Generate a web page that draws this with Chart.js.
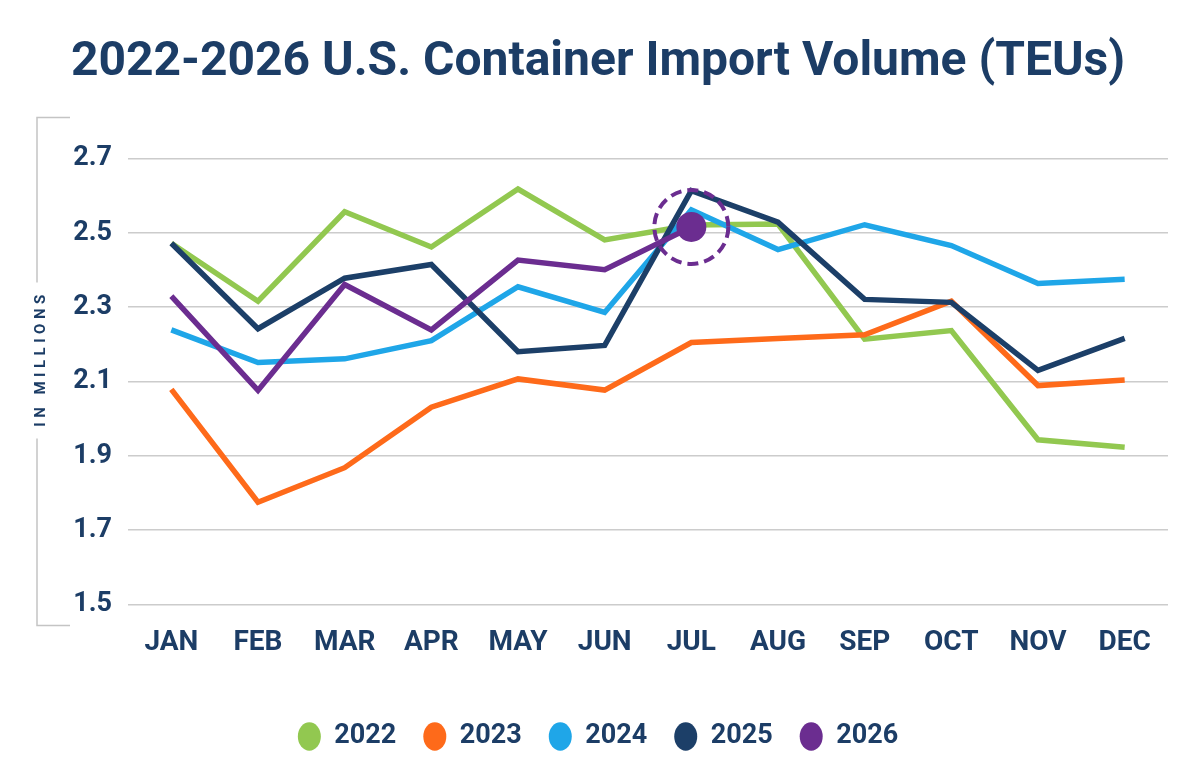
<!DOCTYPE html>
<html>
<head>
<meta charset="utf-8">
<script src="https://cdn.jsdelivr.net/npm/chart.js@4.4.0/dist/chart.umd.min.js"></script>
<style>
  html, body { margin: 0; padding: 0; background: #fff; }
  #wrap { width: 1200px; height: 773px; }
</style>
</head>
<body>
<div id="wrap"><canvas id="importVolume"></canvas></div>
<script>
// values, millions of TEUs
const months = ['JAN', 'FEB', 'MAR', 'APR', 'MAY', 'JUN', 'JUL', 'AUG', 'SEP', 'OCT', 'NOV', 'DEC'];
const years = ['2022', '2023', '2024', '2025', '2026'];
const teu2022 = [2.472, 2.316, 2.557, 2.462, 2.618, 2.481, 2.521, 2.524, 2.214, 2.237, 1.943, 1.923];
const teu2023 = [2.079, 1.775, 1.868, 2.031, 2.107, 2.077, 2.205, 2.216, 2.226, 2.316, 2.089, 2.104];
const teu2024 = [2.239, 2.151, 2.161, 2.210, 2.355, 2.286, 2.562, 2.455, 2.522, 2.466, 2.364, 2.375];
const teu2025 = [2.472, 2.242, 2.378, 2.415, 2.180, 2.197, 2.614, 2.529, 2.321, 2.313, 2.130, 2.216];
const teu2026 = [2.330, 2.076, 2.361, 2.239, 2.427, 2.401, 2.516, null, null, null, null, null];
const yTicks = [1.5, 1.7, 1.9, 2.1, 2.3, 2.5, 2.7];

const seriesValues = [teu2022, teu2023, teu2024, teu2025, teu2026];
const lineColors = ['#92c850', '#fe6a1a', '#1fa6e8', '#1c3f68', '#6b2d90'];
const navy = '#1c3d66';
const plain = "Roboto, 'Noto Sans', sans-serif";

// last reported month of the current year gets the big dot
const latestIndex = teu2026.filter(v => v !== null).length - 1;

const datasets = years.map((year, i) => ({
  label: year,
  data: seriesValues[i],
  borderColor: lineColors[i],
  backgroundColor: lineColors[i],
  pointBackgroundColor: lineColors[i],
  pointBorderWidth: 0,
  pointRadius: i === 4 ? seriesValues[i].map((v, j) => (j === latestIndex ? 15 : 0)) : 0,
  pointHoverRadius: 0,
  borderWidth: 5.5,
  tension: 0,
  order: years.length - i // later years drawn on top
}));

// bracket with "IN MILLIONS" on the left + dashed ring round the latest point
const decorations = {
  id: 'decorations',
  afterDatasetsDraw(chart) {
    const ctx = chart.ctx;
    const pt = chart.getDatasetMeta(4).data[latestIndex];
    if (!pt) return;
    ctx.save();
    ctx.strokeStyle = lineColors[4];
    ctx.lineWidth = 4;
    ctx.setLineDash([11, 6]);
    ctx.beginPath();
    ctx.arc(pt.x, pt.y, 37, 0, Math.PI * 2);
    ctx.stroke();
    ctx.restore();
  },
  afterDraw(chart) {
    const ctx = chart.ctx;
    const area = chart.chartArea;
    const x = area.left - 91;
    const top = area.top - 41;
    const bottom = area.bottom + 21;
    const mid = (top + bottom) / 2 - 11;
    ctx.save();
    ctx.strokeStyle = '#c4c4c4';
    ctx.lineWidth = 1.5;
    ctx.beginPath();
    ctx.moveTo(x + 33, top);
    ctx.lineTo(x, top);
    ctx.lineTo(x, mid - 78);
    ctx.moveTo(x, mid + 78);
    ctx.lineTo(x, bottom);
    ctx.lineTo(x + 33, bottom);
    ctx.stroke();

    ctx.translate(x + 4, mid);
    ctx.rotate(-Math.PI / 2);
    ctx.fillStyle = navy;
    ctx.font = 'bold 15px Roboto, sans-serif';
    ctx.letterSpacing = '4.5px';
    ctx.textAlign = 'center';
    ctx.textBaseline = 'middle';
    ctx.fillText('IN MILLIONS', 2, 0);
    ctx.restore();
  }
};

new Chart(document.getElementById('importVolume'), {
  type: 'line',
  data: { labels: months, datasets: datasets },
  options: {
    responsive: true,
    maintainAspectRatio: false,
    animation: false,
    devicePixelRatio: 1,
    layout: { padding: { left: 28, right: 32, top: 0, bottom: 13 } },
    plugins: {
      title: {
        display: true,
        text: '2022-2026 U.S. Container Import Volume (TEUs)',
        color: navy,
        font: { family: plain, size: 48, weight: 'bold' },
        padding: { top: 34, bottom: 67 }
      },
      legend: {
        position: 'bottom',
        labels: {
          usePointStyle: true,
          pointStyle: 'circle',
          boxHeight: 20,
          pointStyleWidth: 23,
          padding: 27,
          color: navy,
          font: { family: plain, size: 27, weight: 'bold', lineHeight: 1 },
          sort: (a, b) => a.datasetIndex - b.datasetIndex
        }
      },
      tooltip: { enabled: false }
    },
    scales: {
      x: {
        offset: true,
        grid: { display: false, drawTicks: false },
        border: { display: false },
        ticks: {
          color: navy,
          padding: 22,
          font: { family: plain, size: 28, weight: 'bold' }
        },
        title: {
          display: true,
          text: ' ',
          font: { size: 10 },
          padding: { top: 0, bottom: 2 }
        }
      },
      y: {
        min: yTicks[0],
        max: yTicks[yTicks.length - 1],
        afterFit(scale) { scale.width = 100; },
        afterBuildTicks(scale) { scale.ticks = yTicks.map(v => ({ value: v })); },
        grid: { color: '#cccccc', lineWidth: 1.5, drawTicks: false },
        border: { display: false },
        ticks: {
          color: navy,
          padding: 16,
          font: { family: plain, size: 27, weight: 'bold' },
          callback: v => Number(v).toFixed(1)
        }
      }
    }
  },
  plugins: [decorations]
});
</script>
</body>
</html>
